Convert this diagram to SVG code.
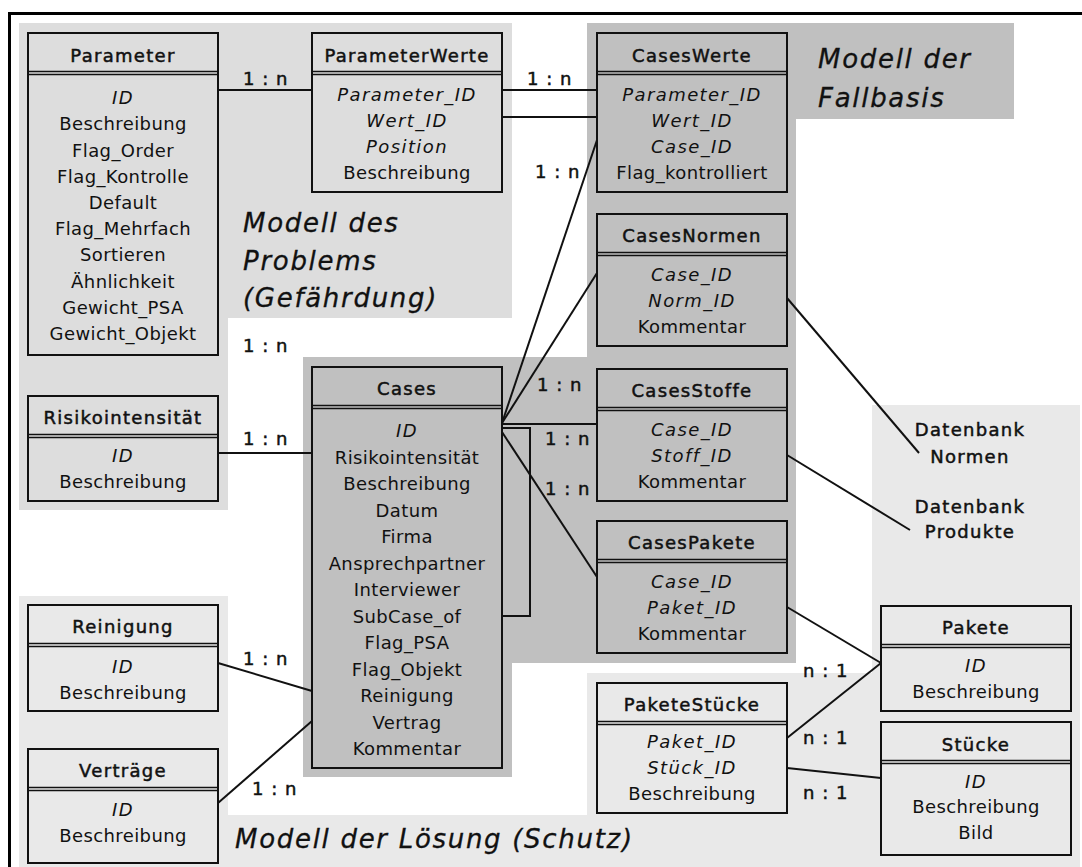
<svg xmlns="http://www.w3.org/2000/svg" width="1082" height="867" viewBox="0 0 1082 867">
  <style>
    .t { font-family: "DejaVu Sans", "Liberation Sans", sans-serif; font-size: 18px; text-anchor: middle; fill: #111; letter-spacing: 0.4px; }
    .i { font-style: italic; letter-spacing: 1.4px; }
    .h { letter-spacing: 1.3px; stroke: #111; stroke-width: 0.5px; }
    .lbl { font-family: "DejaVu Sans", "Liberation Sans", sans-serif; font-size: 18px; fill: #111; letter-spacing: 1px; stroke: #111; stroke-width: 0.5px; }
    .title { font-family: "DejaVu Sans", "Liberation Sans", sans-serif; font-size: 26px; font-style: italic; fill: #111; letter-spacing: 1.7px; stroke: #111; stroke-width: 0.3px; }
    .box { fill: none; stroke: #111; stroke-width: 2; }
    .div { stroke: #111; stroke-width: 1.6; }
    .con { fill: none; stroke: #111; stroke-width: 2; }
  </style>

  <!-- area backgrounds -->
  <g id="areas">
    <polygon points="19,23 512,23 512,318 228,318 228,510 19,510" fill="#dddddd"/>
    <polygon points="19,596 228,596 228,815 587,815 587,673 872,673 872,405 1080,405 1080,867 19,867" fill="#e9e9e9"/>
    <polygon points="587,23 1014,23 1014,119 796,119 796,663 512,663 512,777 303,777 303,357 587,357" fill="#c0c0c0"/>
  </g>

  <!-- outer frame -->
  <path d="M9.5,867 V13.5 H1082" fill="none" stroke="#000" stroke-width="3"/>

  <!-- area titles -->
  <g id="titles">
    <text class="title" x="243" y="232">Modell des</text>
    <text class="title" x="243" y="270">Problems</text>
    <text class="title" x="243" y="307">(Gefährdung)</text>
    <text class="title" x="818" y="68">Modell der</text>
    <text class="title" x="818" y="107">Fallbasis</text>
    <text class="title" x="235" y="848">Modell der Lösung (Schutz)</text>
  </g>

  <!-- connectors -->
  <g id="connectors">
    <line class="con" x1="218" y1="90" x2="312" y2="90"/>
    <line class="con" x1="502" y1="90" x2="597" y2="90"/>
    <line class="con" x1="502" y1="117" x2="597" y2="117"/>
    <line class="con" x1="502" y1="423" x2="597" y2="140"/>
    <line class="con" x1="502" y1="423" x2="597" y2="273"/>
    <line class="con" x1="502" y1="424" x2="597" y2="424"/>
    <line class="con" x1="502" y1="432" x2="597" y2="577"/>
    <polyline class="con" points="502,428 530,428 530,616 502,616"/>
    <line class="con" x1="218" y1="453" x2="312" y2="453"/>
    <line class="con" x1="218" y1="663" x2="312" y2="691"/>
    <line class="con" x1="218" y1="803" x2="312" y2="721"/>
    <line class="con" x1="787" y1="298" x2="919" y2="453"/>
    <line class="con" x1="787" y1="455" x2="910" y2="530"/>
    <line class="con" x1="787" y1="607" x2="881" y2="663"/>
    <line class="con" x1="787" y1="738" x2="881" y2="663"/>
    <line class="con" x1="787" y1="768" x2="881" y2="778"/>
  </g>

  <!-- cardinality labels -->
  <g id="labels">
    <text class="lbl" x="243" y="85">1 : n</text>
    <text class="lbl" x="527" y="85">1 : n</text>
    <text class="lbl" x="535" y="178">1 : n</text>
    <text class="lbl" x="243" y="352">1 : n</text>
    <text class="lbl" x="537" y="391">1 : n</text>
    <text class="lbl" x="243" y="445">1 : n</text>
    <text class="lbl" x="545" y="445">1 : n</text>
    <text class="lbl" x="545" y="495">1 : n</text>
    <text class="lbl" x="243" y="665">1 : n</text>
    <text class="lbl" x="252" y="795">1 : n</text>
    <text class="lbl" x="803" y="677">n : 1</text>
    <text class="lbl" x="803" y="744">n : 1</text>
    <text class="lbl" x="803" y="799">n : 1</text>
  </g>

  <!-- tables -->
  <g id="Parameter">
    <rect class="box" x="28" y="33" width="190" height="322"/>
    <line class="div" x1="28" y1="71.5" x2="218" y2="71.5"/>
    <line class="div" x1="28" y1="74.5" x2="218" y2="74.5"/>
    <text class="t h" x="123" y="62">Parameter</text>
    <text class="t i" x="123" y="104">ID</text>
    <text class="t" x="123" y="130">Beschreibung</text>
    <text class="t" x="123" y="156.5">Flag_Order</text>
    <text class="t" x="123" y="182.5">Flag_Kontrolle</text>
    <text class="t" x="123" y="209">Default</text>
    <text class="t" x="123" y="235">Flag_Mehrfach</text>
    <text class="t" x="123" y="261">Sortieren</text>
    <text class="t" x="123" y="287.5">Ähnlichkeit</text>
    <text class="t" x="123" y="313.5">Gewicht_PSA</text>
    <text class="t" x="123" y="340">Gewicht_Objekt</text>
  </g>

  <g id="ParameterWerte">
    <rect class="box" x="312" y="33" width="190" height="159"/>
    <line class="div" x1="312" y1="71.5" x2="502" y2="71.5"/>
    <line class="div" x1="312" y1="74.5" x2="502" y2="74.5"/>
    <text class="t h" x="407" y="62">ParameterWerte</text>
    <text class="t i" x="407" y="101">Parameter_ID</text>
    <text class="t i" x="407" y="127">Wert_ID</text>
    <text class="t i" x="407" y="153">Position</text>
    <text class="t" x="407" y="179">Beschreibung</text>
  </g>

  <g id="CasesWerte">
    <rect class="box" x="597" y="33" width="190" height="159"/>
    <line class="div" x1="597" y1="71.5" x2="787" y2="71.5"/>
    <line class="div" x1="597" y1="74.5" x2="787" y2="74.5"/>
    <text class="t h" x="692" y="62">CasesWerte</text>
    <text class="t i" x="692" y="101">Parameter_ID</text>
    <text class="t i" x="692" y="127">Wert_ID</text>
    <text class="t i" x="692" y="153">Case_ID</text>
    <text class="t" x="692" y="179">Flag_kontrolliert</text>
  </g>

  <g id="CasesNormen">
    <rect class="box" x="597" y="214" width="190" height="132"/>
    <line class="div" x1="597" y1="252.5" x2="787" y2="252.5"/>
    <line class="div" x1="597" y1="255.5" x2="787" y2="255.5"/>
    <text class="t h" x="692" y="242">CasesNormen</text>
    <text class="t i" x="692" y="281">Case_ID</text>
    <text class="t i" x="692" y="307">Norm_ID</text>
    <text class="t" x="692" y="333">Kommentar</text>
  </g>

  <g id="CasesStoffe">
    <rect class="box" x="597" y="369" width="190" height="132"/>
    <line class="div" x1="597" y1="407.5" x2="787" y2="407.5"/>
    <line class="div" x1="597" y1="410.5" x2="787" y2="410.5"/>
    <text class="t h" x="692" y="397">CasesStoffe</text>
    <text class="t i" x="692" y="436">Case_ID</text>
    <text class="t i" x="692" y="462">Stoff_ID</text>
    <text class="t" x="692" y="488">Kommentar</text>
  </g>

  <g id="CasesPakete">
    <rect class="box" x="597" y="521" width="190" height="132"/>
    <line class="div" x1="597" y1="559.5" x2="787" y2="559.5"/>
    <line class="div" x1="597" y1="562.5" x2="787" y2="562.5"/>
    <text class="t h" x="692" y="549">CasesPakete</text>
    <text class="t i" x="692" y="588">Case_ID</text>
    <text class="t i" x="692" y="614">Paket_ID</text>
    <text class="t" x="692" y="640">Kommentar</text>
  </g>

  <g id="Risikointensitaet">
    <rect class="box" x="28" y="396" width="190" height="105"/>
    <line class="div" x1="28" y1="434.5" x2="218" y2="434.5"/>
    <line class="div" x1="28" y1="437.5" x2="218" y2="437.5"/>
    <text class="t h" x="123" y="424">Risikointensität</text>
    <text class="t i" x="123" y="462">ID</text>
    <text class="t" x="123" y="488">Beschreibung</text>
  </g>

  <g id="Cases">
    <rect class="box" x="312" y="367" width="190" height="401"/>
    <line class="div" x1="312" y1="405.5" x2="502" y2="405.5"/>
    <line class="div" x1="312" y1="408.5" x2="502" y2="408.5"/>
    <text class="t h" x="407" y="395">Cases</text>
    <text class="t i" x="407" y="437">ID</text>
    <text class="t" x="407" y="463.5">Risikointensität</text>
    <text class="t" x="407" y="490">Beschreibung</text>
    <text class="t" x="407" y="516.5">Datum</text>
    <text class="t" x="407" y="543">Firma</text>
    <text class="t" x="407" y="569.5">Ansprechpartner</text>
    <text class="t" x="407" y="596">Interviewer</text>
    <text class="t" x="407" y="622.5">SubCase_of</text>
    <text class="t" x="407" y="649">Flag_PSA</text>
    <text class="t" x="407" y="675.5">Flag_Objekt</text>
    <text class="t" x="407" y="702">Reinigung</text>
    <text class="t" x="407" y="728.5">Vertrag</text>
    <text class="t" x="407" y="755">Kommentar</text>
  </g>

  <g id="Reinigung">
    <rect class="box" x="28" y="605" width="190" height="106"/>
    <line class="div" x1="28" y1="643.5" x2="218" y2="643.5"/>
    <line class="div" x1="28" y1="646.5" x2="218" y2="646.5"/>
    <text class="t h" x="123" y="633">Reinigung</text>
    <text class="t i" x="123" y="673">ID</text>
    <text class="t" x="123" y="699">Beschreibung</text>
  </g>

  <g id="Vertraege">
    <rect class="box" x="28" y="749" width="190" height="114"/>
    <line class="div" x1="28" y1="787.5" x2="218" y2="787.5"/>
    <line class="div" x1="28" y1="790.5" x2="218" y2="790.5"/>
    <text class="t h" x="123" y="777">Verträge</text>
    <text class="t i" x="123" y="816">ID</text>
    <text class="t" x="123" y="842">Beschreibung</text>
  </g>

  <g id="PaketeStuecke">
    <rect class="box" x="597" y="683" width="190" height="130"/>
    <line class="div" x1="597" y1="721.5" x2="787" y2="721.5"/>
    <line class="div" x1="597" y1="724.5" x2="787" y2="724.5"/>
    <text class="t h" x="692" y="711">PaketeStücke</text>
    <text class="t i" x="692" y="748">Paket_ID</text>
    <text class="t i" x="692" y="774">Stück_ID</text>
    <text class="t" x="692" y="800">Beschreibung</text>
  </g>

  <g id="Pakete">
    <rect class="box" x="881" y="606" width="190" height="105"/>
    <line class="div" x1="881" y1="644.5" x2="1071" y2="644.5"/>
    <line class="div" x1="881" y1="647.5" x2="1071" y2="647.5"/>
    <text class="t h" x="976" y="634">Pakete</text>
    <text class="t i" x="976" y="672">ID</text>
    <text class="t" x="976" y="698">Beschreibung</text>
  </g>

  <g id="Stuecke">
    <rect class="box" x="881" y="722" width="190" height="133"/>
    <line class="div" x1="881" y1="760.5" x2="1071" y2="760.5"/>
    <line class="div" x1="881" y1="763.5" x2="1071" y2="763.5"/>
    <text class="t h" x="976" y="751">Stücke</text>
    <text class="t i" x="976" y="788">ID</text>
    <text class="t" x="976" y="813">Beschreibung</text>
    <text class="t" x="976" y="839">Bild</text>
  </g>

  <g id="Datenbanken">
    <text class="t h" x="970" y="436">Datenbank</text>
    <text class="t h" x="970" y="463">Normen</text>
    <text class="t h" x="970" y="513">Datenbank</text>
    <text class="t h" x="970" y="538">Produkte</text>
  </g>
</svg>
